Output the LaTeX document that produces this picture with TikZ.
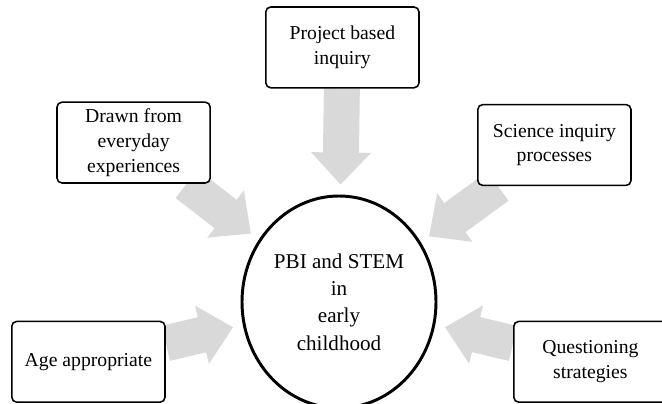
\documentclass[tikz,border=0pt]{standalone}
\usepackage{fontspec}
\setmainfont{Liberation Serif}
\usetikzlibrary{arrows.meta,shapes.geometric,backgrounds}

\begin{document}
\begin{tikzpicture}[
  topic/.style={draw,rounded corners=3.5pt,line width=1.1pt,fill=white,
    align=center,minimum width=3.83cm,minimum height=2.02cm,
    font=\fontsize{14}{17.5}\selectfont},
  hub/.style={ellipse,draw,line width=2.1pt,fill=white,align=center,
    minimum width=4.85cm,minimum height=5.3cm,inner sep=0pt,
    font=\fontsize{15}{19.5}\selectfont},
  feed/.style={-{Triangle[length=.8cm,width=1.45cm]},line width=.9cm,
    draw=black!15,shorten >=.25cm}]

  \useasboundingbox (0,0) rectangle (16.55,10.075);

  \node[hub] (core) at (8.475,2.525)
    {PBI and STEM\\in\\early\\childhood};

  \node[topic] (project) at (8.56,8.89) {Project based\\inquiry};
  \node[topic] (everyday) at (3.34,6.51)
    {Drawn from\\everyday\\experiences};
  \node[topic] (science) at (13.86,6.45) {Science inquiry\\processes};
  \node[topic] (age) at (2.21,1.03) {Age appropriate};
  \node[topic] (question) at (14.76,1.03) {Questioning\\strategies};

  \begin{scope}[on background layer]
  \draw[feed] (project) -- (core);
  \draw[feed] (everyday) -- (core);
  \draw[feed] (science) -- (core);
  \draw[feed] (age) -- (core);
  \draw[feed] (question) -- (core);
  \end{scope}
\end{tikzpicture}
\end{document}
